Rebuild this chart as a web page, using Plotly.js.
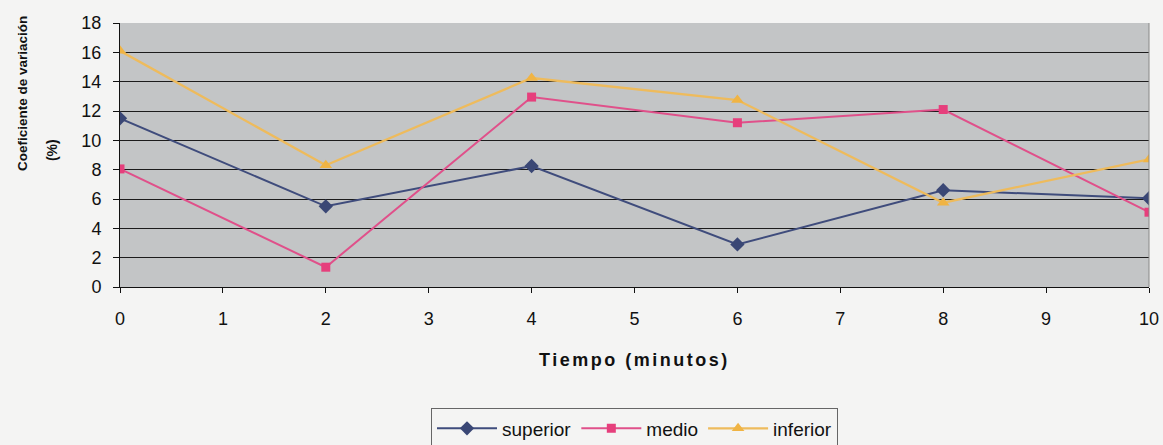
<!DOCTYPE html>
<html>
<head>
<meta charset="utf-8">
<script src="https://cdn.plot.ly/plotly-3.0.1.min.js"></script>
<style>
html,body{margin:0;padding:0;background:#f4f4f3;}
</style>
</head>
<body>
<div id="chart" style="width:1163px;height:445px;"></div>
<script>
const tiempo = [0, 2, 4, 6, 8, 10];
const superior = [11.5, 5.5, 8.25, 2.9, 6.6, 6.05];
const medio = [8.05, 1.35, 12.95, 11.2, 12.1, 5.1];
const inferior = [16.1, 8.3, 14.25, 12.75, 5.75, 8.7];
const xTicks = [0, 1, 2, 3, 4, 5, 6, 7, 8, 9, 10];
const yTicks = [0, 2, 4, 6, 8, 10, 12, 14, 16, 18];

const font = "Liberation Sans, Arial, sans-serif";

const traces = [
  {x: tiempo, y: superior, name: 'superior', mode: 'lines+markers',
   line: {color: '#3f4c7c', width: 2}, marker: {symbol: 'diamond', size: 11, color: '#3a4775'}},
  {x: tiempo, y: medio, name: 'medio', mode: 'lines+markers',
   line: {color: '#e0508a', width: 2}, marker: {symbol: 'square', size: 9, color: '#e63f7c'}},
  {x: tiempo, y: inferior, name: 'inferior', mode: 'lines+markers',
   line: {color: '#eebb5c', width: 2.3}, marker: {symbol: 'triangle-up', size: 11, color: '#f0b444'}}
];

const layout = {
  width: 1163, height: 445,
  margin: {l: 120, r: 14, t: 23, b: 158, autoexpand: false},
  paper_bgcolor: '#f4f4f3',
  plot_bgcolor: '#c3c5c6',
  font: {family: font, size: 17, color: '#111'},
  showlegend: true,
  legend: {orientation: 'h', x: 0.5, xanchor: 'center', y: -0.46, yanchor: 'top',
           bordercolor: '#666', borderwidth: 1, bgcolor: '#f4f4f3',
           font: {family: font, size: 19, color: '#111'}, itemwidth: 60},
  xaxis: {range: [0, 10], tickvals: xTicks, ticktext: xTicks.map(String),
          showgrid: false, zeroline: false, showline: true, linecolor: '#111', linewidth: 1,
          ticks: 'outside', ticklen: 5, tickcolor: '#111', ticklabelstandoff: 10,
          tickfont: {family: font, size: 18, color: '#111'}, fixedrange: true},
  yaxis: {range: [0, 18], tickvals: yTicks, ticktext: yTicks.map(String),
          showgrid: true, gridcolor: '#1c1c1c', gridwidth: 1, zeroline: false,
          showline: true, linecolor: '#111', linewidth: 1,
          ticks: 'outside', ticklen: 6, tickcolor: '#111', ticklabelstandoff: 8,
          tickfont: {family: font, size: 18, color: '#111'}, fixedrange: true},
  shapes: [
    {type: 'line', xref: 'paper', yref: 'paper', x0: 1, x1: 1, y0: 0, y1: 1,
     line: {color: '#888', width: 1}}
  ],
  annotations: [
    {text: '<b>Coeficiente de variación</b>', xref: 'paper', yref: 'paper',
     x: -0.0952, y: 0.731, xanchor: 'center', yanchor: 'middle', textangle: -90,
     showarrow: false, font: {family: font, size: 13.5, color: '#111'}},
    {text: '<b>(%)</b>', xref: 'paper', yref: 'paper',
     x: -0.066, y: 0.519, xanchor: 'center', yanchor: 'middle', textangle: -90,
     showarrow: false, font: {family: font, size: 14, color: '#111'}},
    {text: '<b>Tiempo (minutos)</b>', xref: 'paper', yref: 'paper',
     x: 0.5, y: -0.2765, xanchor: 'center', yanchor: 'middle',
     showarrow: false, font: {family: font, size: 18, color: '#111'}}
  ]
};

Plotly.newPlot('chart', traces, layout, {displayModeBar: false, staticPlot: true}).then(function () {
  const anns = document.querySelectorAll('.annotation-text');
  anns.forEach(function (t) {
    if (t.textContent.indexOf('Tiempo') === 0) t.style.letterSpacing = '2.5px';
  });
});
</script>
</body>
</html>
